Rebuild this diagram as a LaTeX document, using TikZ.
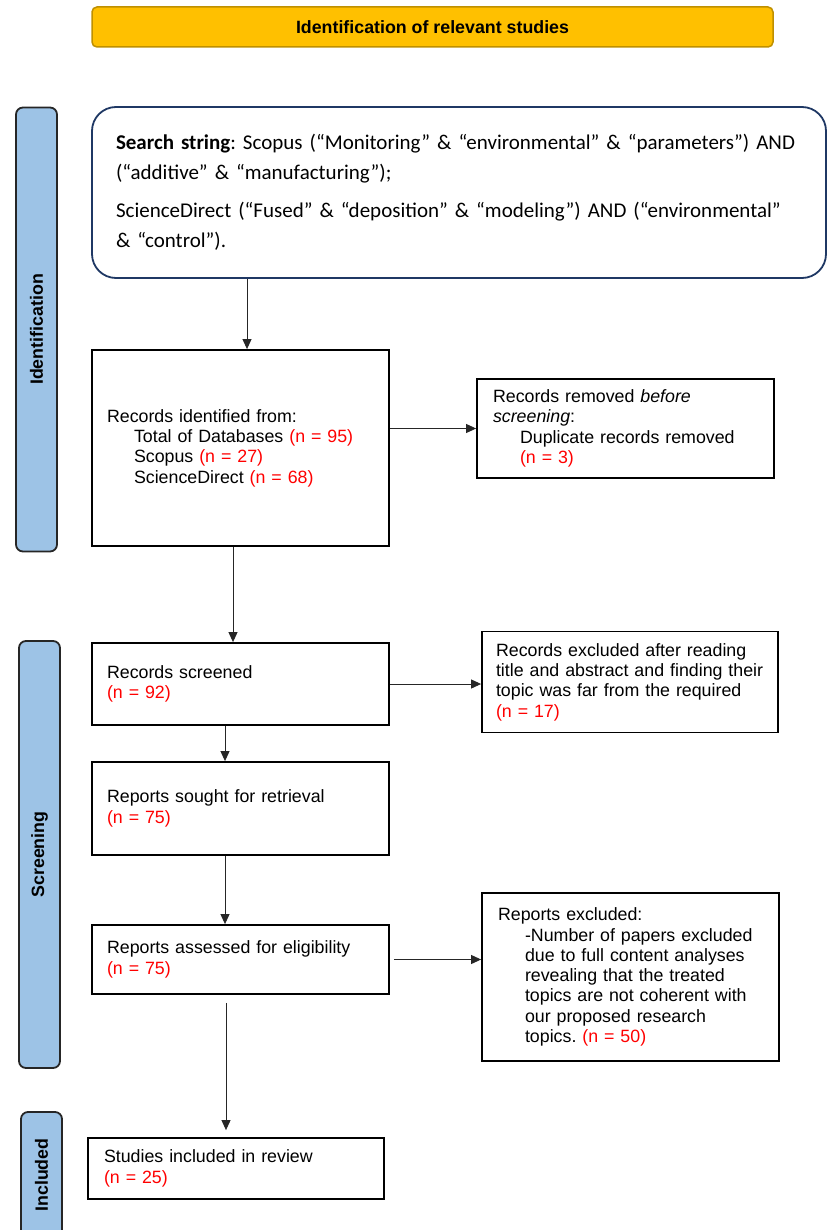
\documentclass[tikz,border=0pt]{standalone}
\usepackage{fontspec}
\setmainfont{Liberation Sans}
\newfontfamily\calibri{Carlito}
\usetikzlibrary{arrows.meta}
\definecolor{barblue}{HTML}{9DC3E6}
\definecolor{goldfill}{HTML}{FFC000}
\definecolor{golddark}{HTML}{BF9000}
\definecolor{navyline}{HTML}{1F3864}
\definecolor{nred}{HTML}{FF0000}
\newcommand{\nr}[1]{\textcolor{nred}{#1}}
\newcommand{\ind}{\hspace*{27pt}}
\frenchspacing
\begin{document}
\begin{tikzpicture}[x=1pt,y=-1pt,
  every node/.style={font=\fontsize{17.8}{20.3}\selectfont},
  box/.style={draw=black, line width=1.8pt, fill=white, inner xsep=15pt, inner ysep=0pt, align=left},
  phase/.style={draw=black!85, line width=1.8pt, fill=barblue, rounded corners=7pt, rotate=90, inner sep=0pt, font=\fontsize{17.8}{20}\selectfont\bfseries},
  arr/.style={draw=black!85, line width=0.9pt, -{Triangle[length=10pt,width=9pt]}},
  ln/.style={draw=black!85, line width=0.9pt}
]
\useasboundingbox (0,0) rectangle (827,1230);

% banner
\node[draw=golddark, line width=1.5pt, fill=goldfill, rounded corners=5pt, minimum width=681, minimum height=40, font=\fontsize{17.8}{20}\selectfont\bfseries] (banner) at (432.5,27) {Identification of relevant studies};

% phase bars
\node[phase, minimum width=444, minimum height=41] (idph) at (36.5,329.5) {Identification};
\node[phase, minimum width=427, minimum height=41] (scph) at (39.5,854.5) {Screening};
\node[phase, minimum width=126, minimum height=41] (inph) at (41.5,1175) {Included};

% search box
\node[draw=navyline, line width=1.8pt, fill=white, rounded corners=24pt, minimum width=734, minimum height=171, text width=686, inner xsep=24pt, inner ysep=0pt, align=left, font=\calibri\fontsize{21}{29.5}\selectfont] (search) at (459,192.5)
 {\mbox{\textbf{Search string}: Scopus (“Monitoring” \& “environmental” \& “parameters”) AND}\\
  (“additive” \& “manufacturing”);\\[9pt]
  \mbox{ScienceDirect (“Fused” \& “deposition” \& “modeling”) AND (“environmental”}\\
  \& “control”).\par\vspace{6pt}};

% boxes
\node[box, minimum width=297, minimum height=196, text width=267] (recid) at (240.5,448)
 {Records identified from:\\
  \ind Total of Databases \nr{(n = 95)}\\
  \ind Scopus \nr{(n = 27)}\\
  \ind ScienceDirect \nr{(n = 68)}};

\node[box, minimum width=297, minimum height=99, text width=265, inner xsep=16pt] (recrem) at (625.5,428.5)
 {Records removed \textit{before}\\
  \textit{screening}:\\
  \ind Duplicate records removed\\
  \ind\nr{(n = 3)}};

\node[box, minimum width=297, minimum height=82, text width=267] (recscr) at (240.5,684)
 {Records screened\\ \nr{(n = 92)}};

\node[box, minimum width=296, minimum height=101, text width=268, inner xsep=14pt] (recexc) at (630,682)
 {Records excluded after reading\\
  title and abstract and finding their\\
  topic was far from the required\\
  \nr{(n = 17)}};

\node[box, minimum width=297, minimum height=93, text width=267] (repsou) at (240.5,808.5)
 {Reports sought for retrieval\\ \nr{(n = 75)}};

\node[box, minimum width=297, minimum height=69, text width=267] (repass) at (240.5,959.5)
 {Reports assessed for eligibility\\ \nr{(n = 75)}};

\node[box, minimum width=297, minimum height=168, text width=265, inner xsep=16pt] (repexc) at (630.5,977)
 {Reports excluded:\\
  \ind -Number of papers excluded\\
  \ind due to full content analyses\\
  \ind revealing that the treated\\
  \ind topics are not coherent with\\
  \ind our proposed research\\
  \ind topics. \nr{(n = 50)}};

\node[box, minimum width=296, minimum height=61, text width=264, inner xsep=16pt] (incl) at (236,1168.5)
 {Studies included in review\\ \nr{(n = 25)}};

% connector coordinates
\coordinate (c1) at (247,0);
\coordinate (c2) at (233,0);
\coordinate (c3) at (225,0);
\coordinate (c4) at (226,0);

\draw[arr] (search.south -| c1) -- (recid.north -| c1);
\draw[arr] (recid.east |- recrem.west) -- (recrem.west);
\draw[arr] (recid.south -| c2) -- (recscr.north -| c2);
\draw[arr] (recscr.east) -- (recscr.east -| recexc.west);
\draw[arr] (recscr.south -| c3) -- (repsou.north -| c3);
\draw[arr] (repsou.south -| c3) -- (repass.north -| c3);
\draw[arr, shorten <=4pt] (repass.east) -- (repass.east -| repexc.west);
\draw[arr, shorten <=8pt, shorten >=7pt] (repass.south -| c4) -- (incl.north -| c4);
\end{tikzpicture}
\end{document}
